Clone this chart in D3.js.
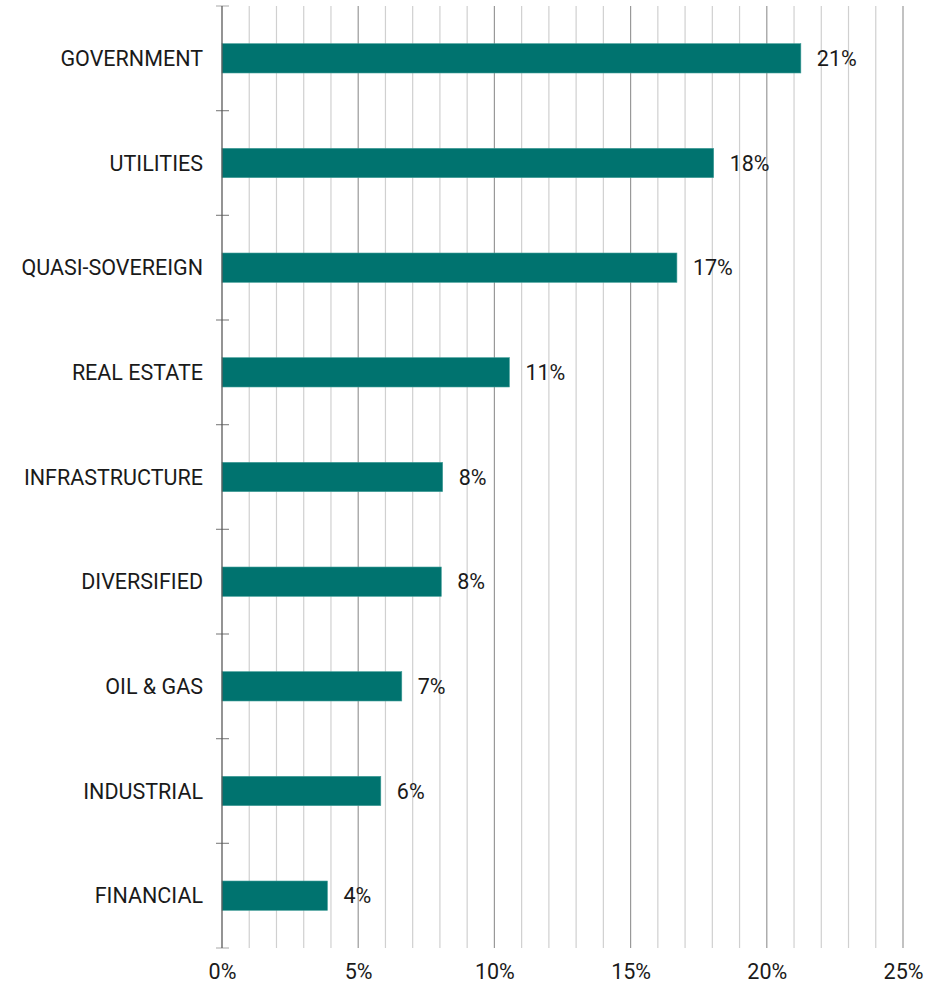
<!DOCTYPE html>
<html>
<head>
<meta charset="utf-8">
<script src="https://cdn.jsdelivr.net/npm/d3@7"></script>
<style>
  html, body { margin: 0; padding: 0; background: #fff; }
  svg { display: block; }
  text { font-family: Roboto, "Noto Sans", sans-serif; font-weight: 400; fill: #1a1a1a; }
</style>
</head>
<body>
<svg id="chart" width="944" height="986"></svg>
<script>
// Sector breakdown (share of total, in percent)
const categories = [
  "GOVERNMENT", "UTILITIES", "QUASI-SOVEREIGN", "REAL ESTATE",
  "INFRASTRUCTURE", "DIVERSIFIED", "OIL & GAS", "INDUSTRIAL", "FINANCIAL"
];
const values = [21.25, 18.05, 16.7, 10.55, 8.1, 8.05, 6.6, 5.83, 3.87];
const xTickValues = [0, 5, 10, 15, 20, 25];
const xDomain = [0, 25];

const svg = d3.select("#chart");
const margin = { top: 6, right: 41, bottom: 38, left: 222 };
const width = 944 - margin.left - margin.right;
const height = 986 - margin.top - margin.bottom;
const fontSize = 21.5;

const g = svg.append("g").attr("transform", `translate(${margin.left},${margin.top})`);

const x = d3.scaleLinear().domain(xDomain).range([0, width]);
const y = d3.scaleBand().domain(categories).range([0, height]).paddingInner(0.72).paddingOuter(0.36);

// vertical gridlines every 1%, darker every 5%
const gridVals = d3.range(xDomain[0] + 1, xDomain[1] + 1);
g.append("g").selectAll("line")
  .data(gridVals)
  .join("line")
  .attr("x1", d => x(d)).attr("x2", d => x(d))
  .attr("y1", 0).attr("y2", height)
  .attr("stroke", d => d % 5 === 0 ? "#999999" : "#d0d0d0")
  .attr("stroke-width", 1.2);

// bars
g.append("g").selectAll("rect")
  .data(categories)
  .join("rect")
  .attr("x", x(0))
  .attr("y", d => y(d))
  .attr("width", (d, i) => x(values[i]) - x(0))
  .attr("height", y.bandwidth())
  .attr("fill", "#00736f")
  .attr("stroke", "#3f9c97")
  .attr("stroke-width", 0.6);

// value labels
g.append("g").selectAll("text")
  .data(categories)
  .join("text")
  .attr("x", (d, i) => x(values[i]) + 16)
  .attr("y", d => y(d) + y.bandwidth() / 2)
  .attr("dy", "0.35em")
  .attr("font-size", fontSize)
  .text((d, i) => d3.format(".0f")(values[i]) + "%");

// category axis: ticks at band boundaries
const boundaries = d3.range(categories.length + 1).map(i => i * y.step());
g.append("g").selectAll("line")
  .data(boundaries)
  .join("line")
  .attr("x1", -6).attr("x2", 7)
  .attr("y1", d => d).attr("y2", d => d)
  .attr("stroke", (d, i) => (i === 0 || i === categories.length) ? "#b5b5b5" : "#8a8a8a")
  .attr("stroke-width", 1.2);

g.append("line")
  .attr("x1", 0).attr("x2", 0)
  .attr("y1", 0).attr("y2", height)
  .attr("stroke", "#5a5a5a")
  .attr("stroke-width", 1.3);

g.append("g").selectAll("text")
  .data(categories)
  .join("text")
  .attr("x", -19)
  .attr("y", d => y(d) + y.bandwidth() / 2)
  .attr("dy", "0.35em")
  .attr("text-anchor", "end")
  .attr("font-size", fontSize)
  .text(d => d);

// percent axis labels
const xAxis = d3.axisBottom(x)
  .tickValues(xTickValues)
  .tickSize(0)
  .tickPadding(16)
  .tickFormat(d => d + "%");
const xa = g.append("g").attr("transform", `translate(0,${height})`).call(xAxis);
xa.select(".domain").remove();
xa.selectAll("text")
  .attr("font-size", fontSize)
  .attr("font-family", "Roboto, 'Noto Sans', sans-serif")
  .attr("font-weight", 400)
  .attr("fill", "#1a1a1a");
</script>
</body>
</html>
